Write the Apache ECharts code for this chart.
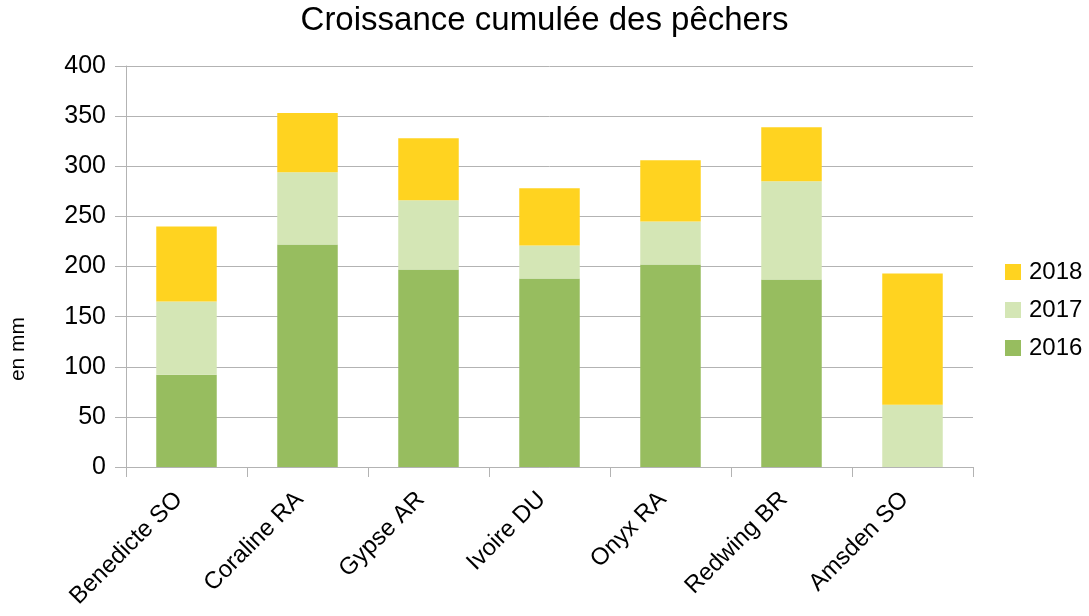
<!DOCTYPE html>
<html>
<head>
<meta charset="utf-8">
<script src="https://cdn.jsdelivr.net/npm/echarts@6/dist/echarts.min.js"></script>
<style>
  html, body { margin: 0; padding: 0; background: #fff; }
  #chart { width: 1089px; height: 616px; }
</style>
</head>
<body>
<div id="chart"></div>
<script>
// catégories et valeurs (mm)
const VARIETES = ['Benedicte SO', 'Coraline RA', 'Gypse AR', 'Ivoire DU', 'Onyx RA', 'Redwing BR', 'Amsden SO']
const Y2016 = [92, 222, 197, 188, 202, 187, 0]
const Y2017 = [73, 72, 69, 33, 43, 98, 62]
const Y2018 = [75, 59, 62, 57, 61, 54, 131]
const ANNEES = ['2016', '2017', '2018']
const COULEURS = ['#97bd5f', '#d4e6b5', '#ffd320']
const Y_TICKS = [0, 50, 100, 150, 200, 250, 300, 350, 400]

const FONT = 'Liberation Sans, Arial, sans-serif'
const chart = echarts.init(document.getElementById('chart'), null, { renderer: 'canvas' })

const series = [Y2016, Y2017, Y2018].map((data, i) => ({
  name: ANNEES[i],
  type: 'bar',
  stack: 'total',
  barWidth: '50%',
  data,
  itemStyle: { color: COULEURS[i] },
  emphasis: { disabled: true },
}))

chart.setOption({
  animation: false,
  backgroundColor: '#fff',
  title: {
    text: 'Croissance cumulée des pêchers',
    left: 'center',
    top: -1,
    textStyle: { fontFamily: FONT, fontSize: 33, fontWeight: 'normal', color: '#000' },
  },
  legend: {
    data: ['2018', '2017', '2016'],
    orient: 'vertical',
    left: 1000,
    top: 255,
    itemWidth: 16,
    itemHeight: 16,
    itemGap: 14,
    icon: 'rect',
    textStyle: { fontFamily: FONT, fontSize: 24, color: '#000', padding: [0, 0, 0, 3] },
  },
  grid: { left: 126, right: 116, top: 66, bottom: 149, containLabel: false },
  xAxis: {
    type: 'category',
    data: VARIETES,
    axisLine: { lineStyle: { color: '#b3b3b3', width: 1 } },
    axisTick: { show: true, length: 10, alignWithLabel: false, lineStyle: { color: '#b3b3b3' } },
    axisLabel: {
      rotate: 45,
      margin: 21,
      padding: [0, 11, 0, 0],
      interval: 0,
      fontFamily: FONT,
      fontSize: 24,
      color: '#000',
    },
    splitLine: { show: false },
  },
  yAxis: {
    type: 'value',
    min: Y_TICKS[0],
    max: Y_TICKS[Y_TICKS.length - 1],
    interval: 50,
    axisLine: { show: true, lineStyle: { color: '#b3b3b3' } },
    axisTick: { show: true, length: 11, lineStyle: { color: '#b3b3b3' } },
    axisLabel: { margin: 20, fontFamily: FONT, fontSize: 25, color: '#000' },
    splitLine: { lineStyle: { color: '#b3b3b3', width: 1 } },
  },
  graphic: [{
    type: 'text',
    x: 18,
    y: 349,
    rotation: Math.PI / 2,
    style: {
      text: 'en mm',
      textAlign: 'center',
      textVerticalAlign: 'middle',
      font: '21px ' + FONT,
      fill: '#000',
    },
  }],
  series,
})
</script>
</body>
</html>
